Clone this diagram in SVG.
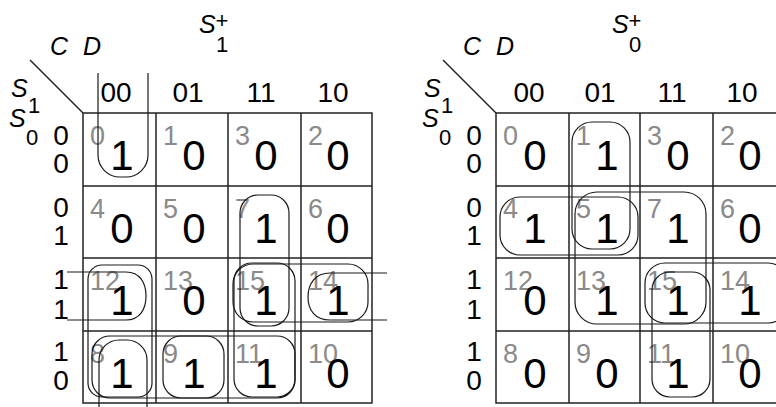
<svg xmlns="http://www.w3.org/2000/svg" width="776" height="407" viewBox="0 0 776 407">
<style>
text{font-family:"Liberation Sans",Arial,sans-serif;fill:#000}
.g{stroke:#222;stroke-width:1.5;fill:none}
.l{stroke:#1a1a1a;stroke-width:1.2;fill:none}
.big{font-size:42px;text-anchor:middle}
.idx{font-size:27px;fill:#8a8a8a}
.hd{font-size:28px;text-anchor:middle}
.rl{font-size:28px;text-anchor:middle}
.it{font-style:italic;font-size:25px}
.sub{font-size:22px;text-anchor:middle}
</style>
<rect width="776" height="407" fill="#fff"/>

<g id="map-s1">
  <g id="s1-frame">
    <path class="g" d="M30,60L83,113"/>
    <rect class="g" x="83" y="113" width="289" height="290"/>
    <path class="g" d="M156,113V403M228,113V403M301,113V403M83,186H372M83,258H372M83,331H372"/>
  </g>
  <g id="s1-title">
    <text class="it" x="199" y="33">S</text>
    <text class="sub" x="222" y="28" font-size="26">+</text>
    <text class="sub" x="222" y="52">1</text>
  </g>
  <text id="s1-cd" class="it" x="50" y="55" word-spacing="8">C D</text>
  <g id="s1-rowvar">
    <text class="it" x="11" y="97" font-size="26">S</text>
    <text class="sub" x="34" y="113" font-size="21">1</text>
    <text class="it" x="9" y="127" font-size="26">S</text>
    <text class="sub" x="32" y="145" font-size="21">0</text>
  </g>
  <g id="s1-colhdr">
    <text class="hd" x="116" y="102">00</text>
    <text class="hd" x="188" y="102">01</text>
    <text class="hd" x="261" y="102">11</text>
    <text class="hd" x="333" y="102">10</text>
  </g>
  <g id="s1-rowhdr">
    <text class="rl" x="61" y="145">0</text><text class="rl" x="61" y="173">0</text>
    <text class="rl" x="61" y="217">0</text><text class="rl" x="61" y="245">1</text>
    <text class="rl" x="61" y="289">1</text><text class="rl" x="61" y="319">1</text>
    <text class="rl" x="61" y="361">1</text><text class="rl" x="61" y="390">0</text>
  </g>
  <g id="s1-idx">
    <text class="idx" x="90" y="145">0</text><text class="idx" x="163" y="145">1</text><text class="idx" x="235" y="145">3</text><text class="idx" x="308" y="145">2</text>
    <text class="idx" x="90" y="218">4</text><text class="idx" x="163" y="218">5</text><text class="idx" x="235" y="218">7</text><text class="idx" x="308" y="218">6</text>
    <text class="idx" x="90" y="290">12</text><text class="idx" x="163" y="290">13</text><text class="idx" x="235" y="290">15</text><text class="idx" x="308" y="290">14</text>
    <text class="idx" x="90" y="363">8</text><text class="idx" x="163" y="363">9</text><text class="idx" x="235" y="363">11</text><text class="idx" x="308" y="363">10</text>
  </g>
  <g id="s1-vals">
    <text class="big" x="122" y="170">1</text><text class="big" x="194" y="170">0</text><text class="big" x="266" y="170">0</text><text class="big" x="338" y="170">0</text>
    <text class="big" x="122" y="243">0</text><text class="big" x="194" y="243">0</text><text class="big" x="266" y="243">1</text><text class="big" x="338" y="243">0</text>
    <text class="big" x="122" y="315">1</text><text class="big" x="194" y="315">0</text><text class="big" x="266" y="315">1</text><text class="big" x="338" y="315">1</text>
    <text class="big" x="122" y="388">1</text><text class="big" x="194" y="388">1</text><text class="big" x="266" y="388">1</text><text class="big" x="338" y="388">0</text>
  </g>
  <g id="s1-loops">
    <path class="l" d="M98,73V155A22,22 0 0 0 120,177H126A22,22 0 0 0 148,155V73"/>
    <path class="l" d="M99,407V360A20,20 0 0 1 119,340H127A20,20 0 0 1 147,360V407"/>
    <rect class="l" x="88" y="265" width="64" height="132" rx="14"/>
    <path class="l" d="M67,272H126C140,272 146,283 146,296C146,309 140,320 126,320H67"/>
    <path class="l" d="M387,273H330C315,273 308,284 308,297C308,310 315,320 330,320H387"/>
    <rect class="l" x="240" y="195" width="49" height="131" rx="18"/>
    <rect class="l" x="234" y="263" width="61" height="134" rx="18"/>
    <rect class="l" x="233" y="264" width="135" height="58" rx="20"/>
    <rect class="l" x="92" y="336" width="132" height="62" rx="18"/>
    <rect class="l" x="163" y="336" width="132" height="62" rx="18"/>
  </g>
</g>

<g id="map-s0" transform="translate(413,0)">
  <g id="s0-frame">
    <path class="g" d="M30,60L83,113"/>
    <rect class="g" x="83" y="113" width="289" height="290"/>
    <path class="g" d="M156,113V403M227,113V403M300,113V403M83,186H372M83,258H372M83,331H372"/>
  </g>
  <g id="s0-title">
    <text class="it" x="199" y="33">S</text>
    <text class="sub" x="222" y="28" font-size="26">+</text>
    <text class="sub" x="222" y="52">0</text>
  </g>
  <text id="s0-cd" class="it" x="50" y="55" word-spacing="8">C D</text>
  <g id="s0-rowvar">
    <text class="it" x="11" y="97" font-size="26">S</text>
    <text class="sub" x="34" y="113" font-size="21">1</text>
    <text class="it" x="9" y="127" font-size="26">S</text>
    <text class="sub" x="32" y="145" font-size="21">0</text>
  </g>
  <g id="s0-colhdr">
    <text class="hd" x="116" y="102">00</text>
    <text class="hd" x="187" y="102">01</text>
    <text class="hd" x="259" y="102">11</text>
    <text class="hd" x="329" y="102">10</text>
  </g>
  <g id="s0-rowhdr">
    <text class="rl" x="61" y="145">0</text><text class="rl" x="61" y="173">0</text>
    <text class="rl" x="61" y="217">0</text><text class="rl" x="61" y="245">1</text>
    <text class="rl" x="61" y="289">1</text><text class="rl" x="61" y="319">1</text>
    <text class="rl" x="61" y="361">1</text><text class="rl" x="61" y="390">0</text>
  </g>
  <g id="s0-idx">
    <text class="idx" x="90" y="145">0</text><text class="idx" x="163" y="145">1</text><text class="idx" x="234" y="145">3</text><text class="idx" x="307" y="145">2</text>
    <text class="idx" x="90" y="218">4</text><text class="idx" x="163" y="218">5</text><text class="idx" x="234" y="218">7</text><text class="idx" x="307" y="218">6</text>
    <text class="idx" x="90" y="290">12</text><text class="idx" x="163" y="290">13</text><text class="idx" x="234" y="290">15</text><text class="idx" x="307" y="290">14</text>
    <text class="idx" x="90" y="363">8</text><text class="idx" x="163" y="363">9</text><text class="idx" x="234" y="363">11</text><text class="idx" x="307" y="363">10</text>
  </g>
  <g id="s0-vals">
    <text class="big" x="122" y="170">0</text><text class="big" x="194" y="170">1</text><text class="big" x="265" y="170">0</text><text class="big" x="337" y="170">0</text>
    <text class="big" x="122" y="243">1</text><text class="big" x="194" y="243">1</text><text class="big" x="265" y="243">1</text><text class="big" x="337" y="243">0</text>
    <text class="big" x="122" y="315">0</text><text class="big" x="194" y="315">1</text><text class="big" x="265" y="315">1</text><text class="big" x="337" y="315">1</text>
    <text class="big" x="122" y="388">0</text><text class="big" x="194" y="388">0</text><text class="big" x="265" y="388">1</text><text class="big" x="337" y="388">0</text>
  </g>
  <g id="s0-loops">
    <rect class="l" x="159" y="122" width="58" height="127" rx="20"/>
    <rect class="l" x="87" y="197" width="138" height="58" rx="20"/>
    <rect class="l" x="162" y="192" width="131" height="132" rx="22"/>
    <rect class="l" x="232" y="263" width="143" height="60" rx="20"/>
    <rect class="l" x="239" y="272" width="58" height="125" rx="18"/>
  </g>
</g>
</svg>
